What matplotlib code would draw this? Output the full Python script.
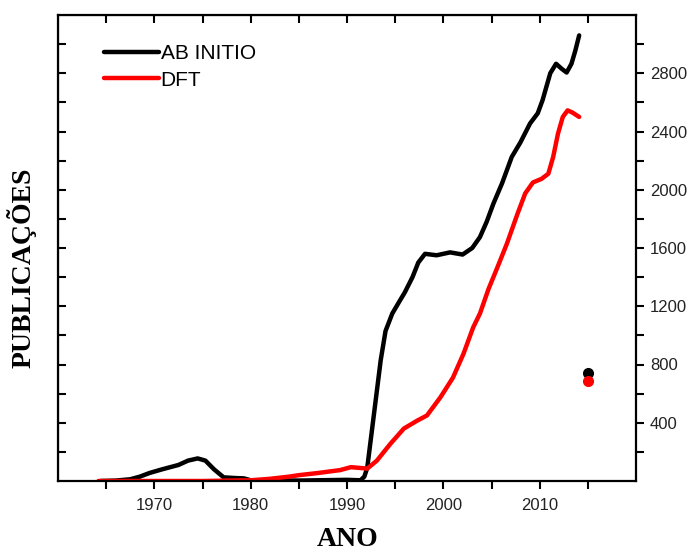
import numpy as np
import matplotlib.pyplot as plt

plt.rcParams['font.family'] = ['Liberation Sans', 'DejaVu Sans']

# AB INITIO publications per year
ab_years = [1964.4, 1966, 1967.5, 1968.5, 1969.5, 1970.8, 1972.5, 1973.5, 1974.5,
            1975.3, 1976.2, 1977.2, 1978.5, 1979.3, 1980, 1985, 1990, 1991.4,
            1991.8, 1992.1, 1992.8, 1993.5, 1994, 1994.7, 1995.5, 1996, 1996.8,
            1997.4, 1998.1, 1999.3, 2000.7, 2002, 2003, 2003.8, 2004.5, 2005.2,
            2006.1, 2007.1, 2008, 2009, 2009.8, 2010.3, 2011.1, 2011.7, 2012.3,
            2012.8, 2013.3, 2013.7, 2014.1]
ab_pubs = [0, 3, 12, 30, 55, 80, 110, 140, 155,
           140, 80, 25, 20, 18, 5, 3, 8, 5,
           30, 90, 460, 830, 1030, 1150, 1240, 1295, 1400,
           1500, 1560, 1550, 1570, 1555, 1600, 1675, 1780, 1905,
           2045, 2225, 2325, 2455, 2525, 2615, 2800, 2865, 2830,
           2805, 2865, 2955, 3060]

# DFT publications per year
dft_years = [1964.2, 1975, 1980, 1982, 1984, 1985, 1987, 1989.3, 1990.4, 1991.3,
             1992.1, 1993.1, 1994.5, 1995.9, 1997.3, 1998.3, 1999.7, 2001, 2002.1,
             2003.1, 2003.8, 2004.7, 2005.6, 2006.6, 2007.7, 2008.5, 2009.3,
             2010.2, 2010.9, 2011.4, 2011.9, 2012.4, 2012.9, 2013.4, 2014.1]
dft_pubs = [0, 0, 5, 15, 30, 40, 55, 75, 95, 90,
            85, 140, 255, 360, 415, 450, 575, 710, 875,
            1055, 1150, 1320, 1465, 1630, 1835, 1975, 2050,
            2075, 2110, 2225, 2385, 2500, 2545, 2530, 2500]

# isolated points for 2015
year_2015 = 2015
ab_2015 = 740
dft_2015 = 690

fig = plt.figure(figsize=(6.88, 5.54), dpi=100)
ax = fig.add_axes([58/688, 73/554, 578/688, 466/554])

ax.plot(ab_years, ab_pubs, color='black', lw=3.2, solid_joinstyle='round',
        solid_capstyle='round', label='AB INITIO')
ax.plot(dft_years, dft_pubs, color='#ff0000', lw=3.2, solid_joinstyle='round',
        solid_capstyle='round', label='DFT')
ax.plot([year_2015], [ab_2015], 'o', color='black', ms=7)
ax.plot([year_2015], [dft_2015], 'o', color='#ff0000', ms=7)

ax.set_xlim(1960, 2020)
ax.set_ylim(0, 3200)

ax.set_xticks([1970, 1980, 1990, 2000, 2010])
ax.set_xticks([1965, 1975, 1985, 1995, 2005, 2015], minor=True)

ax.yaxis.tick_right()
ax.set_yticks([400, 800, 1200, 1600, 2000, 2400, 2800])
ax.set_yticks([200, 600, 1000, 1400, 1800, 2200, 2600, 3000], minor=True)

for s in ax.spines.values():
    s.set_linewidth(1.6)

ax.tick_params(which='major', direction='out', length=6, width=1.5,
               labelsize=12, colors='black')
ax.tick_params(which='minor', direction='out', length=6, width=1.5)
ax.tick_params(axis='y', pad=4)
ax.tick_params(axis='x', pad=6)
for lab in ax.get_xticklabels() + ax.get_yticklabels():
    lab.set_color('#222222')

# inward mirror ticks on top and left
top = ax.secondary_xaxis('top')
top.set_xticks([1965, 1970, 1975, 1980, 1985, 1990, 1995, 2000, 2005, 2010, 2015])
top.tick_params(direction='in', length=6, width=1.5, labeltop=False)
left = ax.secondary_yaxis('left')
left.set_yticks(np.arange(200, 3200, 200))
left.tick_params(direction='in', length=6, width=1.5, labelleft=False)

ax.legend(loc='upper left', bbox_to_anchor=(0.066, 0.955), frameon=False,
          fontsize=15, handlelength=2.6, handletextpad=0.1, labelspacing=0.35,
          borderaxespad=0)

fig.text(348/688, 1 - 540/554, 'ANO', ha='center', va='center',
         family='Liberation Serif', weight='bold', fontsize=20)
fig.text(22/688, 1 - 268/554, 'PUBLICAÇÕES', ha='center', va='center',
         rotation=90, family='Liberation Serif', weight='bold', fontsize=20)

fig.savefig('out.png', dpi=100)
